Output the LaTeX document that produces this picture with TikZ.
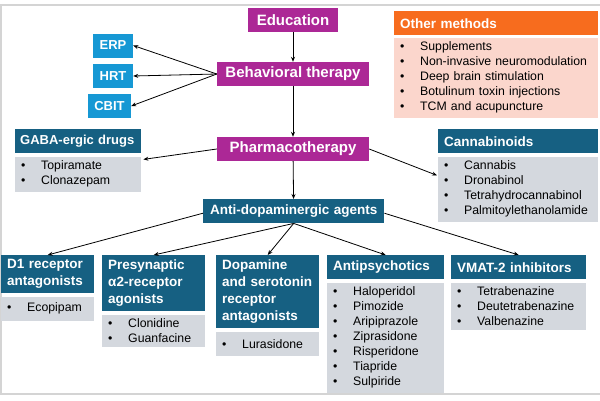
\documentclass[tikz,border=0pt]{standalone}
\usepackage{fontspec}
\setmainfont{Liberation Sans}
\usetikzlibrary{arrows.meta,positioning}
\definecolor{tmagenta}{RGB}{172,40,150}
\definecolor{tblue}{RGB}{22,152,212}
\definecolor{tteal}{RGB}{22,96,130}
\definecolor{tgray}{RGB}{212,216,222}
\definecolor{torange}{RGB}{247,108,30}
\definecolor{tpink}{RGB}{251,214,204}
\definecolor{framegray}{RGB}{212,212,212}
\newcommand{\drugitem}[1]{\makebox[20pt][l]{\textbullet}#1}
\tikzset{
  pre/.style       = {{Stealth[length=5pt,width=4pt]}-, line width=0.8pt},
  post/.style      = {-{Stealth[length=5pt,width=4pt]}, line width=0.8pt},
  therapy/.style   = {fill=tmagenta, text=white, font=\bfseries\fontsize{15}{18}\selectfont, minimum height=24pt, inner sep=0pt},
  technique/.style = {fill=tblue, text=white, font=\bfseries\fontsize{13}{15}\selectfont, minimum height=24pt, inner sep=0pt},
  drugclass/.style = {fill=tteal, text=white, font=\bfseries\fontsize{13.5}{17}\selectfont, anchor=north west, align=left, inner xsep=6pt, inner ysep=0pt, minimum height=24pt},
  druglist/.style  = {fill=tgray, font=\fontsize{12.3}{15}\selectfont, align=left, inner xsep=6pt, inner ysep=4.25pt, minimum height=24pt}
}
\begin{document}
\begin{tikzpicture}[x=1pt, y=-1pt]
    \useasboundingbox (0,0) rectangle (600,400);
    \draw[framegray, line width=1.5pt] (600,5) -- (1,5) -- (1,394) -- (600,394);

    \node[therapy, minimum width=90pt] (edu) at (293,20) {Education};
    \node[therapy, minimum width=152pt] (beh) at (293,74) {Behavioral therapy}
    edge [pre] (edu);
    \node[therapy, minimum width=152pt] (pharm) at (293,149) {Pharmacotherapy}
    edge [pre] (beh);

    \node[technique, minimum width=40pt] (erp)  at (113,45.5) {ERP};
    \node[technique, minimum width=40pt] (hrt)  at (113,76)   {HRT};
    \node[technique, minimum width=43pt] (cbit) at (109.5,106) {CBIT};
    \draw[post] (beh.west) -- (erp.east);
    \draw[post] (beh.west) -- (hrt.east);
    \draw[post] (beh.west) -- (cbit.east);

    \node[drugclass, fill=torange, text width=192pt] (other) at (394,11) {Other methods};
    \node[druglist, fill=tpink, text width=192pt, below=2pt of other] (otherlist)
      {\drugitem{Supplements}\\ \drugitem{Non-invasive neuromodulation}\\ \drugitem{Deep brain stimulation}\\
       \drugitem{Botulinum toxin injections}\\ \drugitem{TCM and acupuncture}};

    \node[drugclass, font=\bfseries\fontsize{13}{17}\selectfont, inner xsep=5pt, text width=116pt] (gaba) at (15,129) {GABA-ergic drugs};
    \node[druglist, text width=114pt, below=3pt of gaba] (gabalist)
      {\drugitem{Topiramate}\\ \drugitem{Clonazepam}};
    \node[drugclass, text width=148pt] (canna) at (438,129) {Cannabinoids};
    \node[druglist, text width=148pt, below=3pt of canna] (cannalist)
      {\drugitem{Cannabis}\\ \drugitem{Dronabinol}\\ \drugitem{Tetrahydrocannabinol}\\ \drugitem{Palmitoylethanolamide}};
    \draw[post] (pharm.west) -- ([shift={(2pt,-3pt)}]gabalist.north east);
    \draw[post] (pharm.east) -- ([shift={(-1pt,-19pt)}]cannalist.north west);

    \node[drugclass, text width=169pt, align=center] (anti) at (203,199) {Anti-dopaminergic agents}
    edge [pre] (pharm);

    % receptor classes
    \node[drugclass, text width=81pt, minimum height=38pt] (d1) at (1,255) {D1 receptor\\antagonists};
    \node[druglist, text width=81pt, below=3pt of d1] (d1list) {\drugitem{Ecopipam}};
    \node[drugclass, text width=91pt, minimum height=56pt] (pre) at (102,255) {Presynaptic\\α2-receptor\\agonists};
    \node[druglist, text width=91pt, below=3pt of pre] (prelist) {\drugitem{Clonidine}\\ \drugitem{Guanfacine}};
    \node[drugclass, text width=91pt, minimum height=73pt] (dop) at (216,255) {Dopamine\\and serotonin\\receptor\\antagonists};
    \node[druglist, text width=91pt, below=3pt of dop] (doplist) {\drugitem{Lurasidone}};
    \node[drugclass, text width=105pt] (anp) at (327,255) {Antipsychotics};
    \node[druglist, text width=105pt, below=3pt of anp] (anplist)
      {\drugitem{Haloperidol}\\ \drugitem{Pimozide}\\ \drugitem{Aripiprazole}\\ \drugitem{Ziprasidone}\\
       \drugitem{Risperidone}\\ \drugitem{Tiapride}\\ \drugitem{Sulpiride}};
    \node[drugclass, text width=123pt] (vmat) at (451,255) {VMAT-2 inhibitors};
    \node[druglist, text width=123pt, below=3pt of vmat] (vmatlist)
      {\drugitem{Tetrabenazine}\\ \drugitem{Deutetrabenazine}\\ \drugitem{Valbenazine}};

    \draw[post] ([yshift=-2pt]anti.west) -- (d1.north);
    \draw[post] (anti.south) -- (pre.north);
    \draw[post] (anti.south) -- (dop.north);
    \draw[post] (anti.south) -- (anp.north);
    \draw[post] ([yshift=-2pt]anti.east) -- (vmat.north);
\end{tikzpicture}
\end{document}
